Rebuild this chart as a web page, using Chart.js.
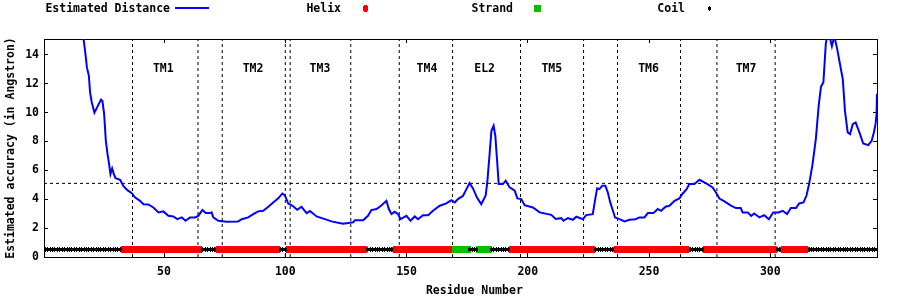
<!DOCTYPE html>
<html>
<head>
<meta charset="utf-8">
<script src="https://cdn.jsdelivr.net/npm/chart.js@4/dist/chart.umd.min.js"></script>
<style>
html,body{margin:0;padding:0;background:#ffffff;}
canvas{display:block;}
</style>
</head>
<body>
<canvas id="c" width="900" height="300"></canvas>
<script>
// ---------------- data ----------------
const residues = [1, 8, 14, 16.9, 17.6, 18.2, 19.0, 19.5, 20.2, 21.3, 24.0, 24.6, 25.3, 26.0, 26.7, 27.35, 27.9, 28.6, 29.3, 30.0,
  31.9, 33.2, 34.9, 36.7, 38.0, 40.1, 41.5, 43.5, 45.6, 47.7, 49.7, 51.8, 53.8, 55.5, 57.3, 58.9, 60.7, 62.8, 64.1, 65.8,
  67.2, 68.9, 69.6, 70.3, 72.4, 75.8, 80.5, 82.0, 84.7, 86.8, 88.8, 90.9, 93.0, 95.0, 97.1, 98.8, 99.8, 101.2, 103.0, 104.9,
  106.7, 108.8, 110.2, 112.9, 116.0, 119.4, 123.8, 128.0, 128.7, 132.1, 134.1, 135.5, 137.6, 139.5, 141.7, 142.7, 143.8, 145.1, 146.5, 147.5,
  148.8, 150.0, 151.6, 153.4, 154.7, 156.8, 158.9, 160.9, 163.7, 166.4, 168.5, 169.9, 171.2, 173.3, 174.7, 176.0, 177.4, 179.0, 180.8, 182.6,
  183.3, 184.3, 185.0, 185.9, 186.6, 187.3, 188.0, 189.7, 190.9, 192.5, 194.6, 195.7, 197.3, 198.7, 202.1, 204.9, 209.7, 211.5, 213.8, 214.7,
  216.5, 218.6, 220.0, 222.7, 224.1, 226.8, 227.8, 228.6, 229.5, 230.7, 232.0, 233.0, 234.0, 235.1, 236.0, 237.8, 239.9, 241.9, 244.4, 246.0,
  248.1, 249.5, 251.8, 253.6, 255.0, 256.8, 258.4, 260.5, 262.5, 263.9, 265.5, 266.6, 268.7, 270.8, 272.8, 274.6, 276.2, 277.6, 279.0, 281.1,
  283.6, 285.8, 287.8, 288.6, 290.7, 292.1, 293.4, 295.5, 297.5, 299.4, 301.2, 303.4, 305.1, 306.9, 308.5, 310.6, 311.9, 313.7, 314.9, 316.0,
  317.4, 318.8, 319.9, 320.9, 321.9, 322.9, 323.6, 324.4, 325.4, 326.4, 327.6, 328.8, 329.9, 330.8, 331.9, 332.9, 334.0, 335.2, 337.0, 338.3,
  340.4, 341.8, 342.7, 343.4, 343.8, 344.0];
const distance = [19.0, 17.6, 16.0, 15.0, 14.05, 13.13, 12.55, 11.4, 10.7, 10.0, 10.9, 10.8, 9.9, 8.05, 7.13, 6.43, 5.74, 6.13, 5.74, 5.46,
  5.35, 4.93, 4.63, 4.42, 4.13, 3.89, 3.66, 3.64, 3.43, 3.09, 3.16, 2.85, 2.81, 2.62, 2.74, 2.51, 2.74, 2.74, 2.85, 3.25,
  3.04, 3.04, 3.09, 2.74, 2.51, 2.44, 2.46, 2.62, 2.74, 2.97, 3.16, 3.20, 3.48, 3.78, 4.06, 4.40, 4.29, 3.70, 3.55, 3.27,
  3.48, 3.04, 3.18, 2.81, 2.64, 2.45, 2.30, 2.40, 2.55, 2.55, 2.85, 3.25, 3.32, 3.55, 3.89, 3.32, 2.97, 3.13, 2.97, 2.62,
  2.74, 2.85, 2.51, 2.81, 2.62, 2.90, 2.90, 3.20, 3.55, 3.71, 3.94, 3.78, 4.01, 4.24, 4.70, 5.12, 4.75, 4.13, 3.66, 4.24,
  5.17, 7.24, 8.74, 9.09, 8.40, 6.78, 5.05, 5.05, 5.28, 4.82, 4.59, 4.06, 4.01, 3.59, 3.43, 3.09, 2.92, 2.64, 2.69, 2.51,
  2.69, 2.58, 2.79, 2.62, 2.90, 2.97, 4.01, 4.75, 4.70, 4.93, 4.93, 4.47, 3.78, 3.20, 2.74, 2.62, 2.46, 2.58, 2.62, 2.74,
  2.74, 3.04, 3.04, 3.32, 3.20, 3.48, 3.55, 3.89, 4.06, 4.40, 4.70, 5.05, 5.05, 5.35, 5.17, 5.00, 4.82, 4.47, 4.05, 3.85,
  3.58, 3.39, 3.39, 3.09, 3.09, 2.85, 3.02, 2.74, 2.90, 2.62, 3.09, 3.09, 3.20, 2.97, 3.39, 3.39, 3.71, 3.78, 4.24, 5.05,
  6.40, 8.20, 10.40, 11.80, 12.10, 14.80, 15.40, 15.30, 14.60, 15.30, 14.40, 13.30, 12.30, 10.10, 8.63, 8.51, 9.20, 9.32, 8.51, 7.86,
  7.75, 8.05, 8.63, 9.20, 9.90, 11.30];

// secondary structure, as residue ranges [first, last]
const helixRanges  = [[33,65],[72,97],[101,133],[145,169],[193,227],[236,266],[273,302],[305,315]];
const strandRanges = [[170,175],[180,184]];
const coilRanges   = [[1,32],[66,71],[98,100],[134,144],[176,179],[185,192],[228,235],[267,272],[303,304],[316,344]];
const ssLevel = 0.5;

// region boundaries (vertical dotted lines), cutoff (horizontal dotted line) and region names
const boundaries = [37, 64, 74, 100, 102, 127, 147, 169, 197, 223, 237, 263, 278, 302];
const cutoff = 5.1;
const regionLabels  = ['TM1', 'TM2', 'TM3', 'TM4', 'EL2', 'TM5', 'TM6', 'TM7'];
const regionCenters = [49.7, 86.7, 114.3, 158.4, 182.2, 209.9, 249.8, 290.0];
const regionLabelLevel = 13;

// axes
const xRange = [0.5, 344];
const yRange = [0, 15.1];
const xTicks = [50, 100, 150, 200, 250, 300];
const yTicks = [0, 2, 4, 6, 8, 10, 12, 14];
const xTitle = 'Residue Number';
const yTitle = 'Estimated accuracy (in Angstron)';
const seriesNames = ['Estimated Distance', 'Helix', 'Strand', 'Coil'];

// ---------------- styling ----------------
const FAMILY = '"DejaVu Sans Mono", "Liberation Mono", monospace';
const FSIZE = 11.5;
const FONT = {family: FAMILY, size: FSIZE, weight: 'bold'};
const FONT_CSS = 'bold ' + FSIZE + 'px ' + FAMILY;

function glyph(w, h, rows, color) {
  const c = document.createElement('canvas');
  c.width = w; c.height = h;
  const g = c.getContext('2d');
  g.fillStyle = color;
  rows.forEach(([y, x0, x1]) => g.fillRect(x0, y, x1 - x0 + 1, 1));
  return c;
}
const helixImg  = glyph(5, 7, [[0,1,3],[1,0,4],[2,0,4],[3,0,4],[4,0,4],[5,0,4],[6,1,3]], '#ff0000');
const strandImg = glyph(7, 7, [[0,0,6],[1,0,6],[2,0,6],[3,0,6],[4,0,6],[5,0,6],[6,0,6]], '#00c000');
const coilImg   = glyph(3, 5, [[0,1,1],[1,0,2],[2,0,2],[3,0,2],[4,1,1]], '#000000');

function expand(ranges) {
  const pts = [];
  ranges.forEach(([a, b]) => { for (let r = a; r <= b; r++) pts.push({x: r, y: ssLevel}); });
  return pts;
}

const curve = residues.map((r, i) => ({x: r, y: distance[i]}));
const boundaryPts = [];
boundaries.forEach(b => { boundaryPts.push({x: b, y: yRange[0]}, {x: b, y: yRange[1]}, {x: b, y: null}); });
const cutoffPts = [{x: xRange[0], y: cutoff}, {x: xRange[1], y: cutoff}];

// ---------------- plugins ----------------
const crispPoints = {
  id: 'crispPoints',
  beforeDatasetsDraw(chart) { chart.ctx.imageSmoothingEnabled = false; },
  afterDatasetsDraw(chart) { chart.ctx.imageSmoothingEnabled = true; }
};

const regionPlugin = {
  id: 'regionNames',
  afterDatasetsDraw(chart) {
    const {ctx, scales: {x, y}} = chart;
    ctx.save();
    ctx.font = FONT_CSS;
    ctx.fillStyle = '#000';
    ctx.textAlign = 'center';
    ctx.textBaseline = 'middle';
    regionLabels.forEach((t, i) => ctx.fillText(t, x.getPixelForValue(regionCenters[i]), y.getPixelForValue(regionLabelLevel)));
    ctx.restore();
  }
};

// gnuplot-style key: text right-aligned, sample to its right
const KEY_Y = 9;
const keyLayout = [
  {ds: 0, textRight: 170, sx: 192, line: true},
  {ds: 1, textRight: 341, sx: 365},
  {ds: 2, textRight: 513, sx: 537},
  {ds: 3, textRight: 685, sx: 709}
];
const keyPlugin = {
  id: 'gnuKey',
  afterDraw(chart) {
    const ctx = chart.ctx;
    const ds = chart.data.datasets;
    ctx.save();
    ctx.font = FONT_CSS;
    ctx.fillStyle = '#000';
    ctx.textAlign = 'right';
    ctx.textBaseline = 'middle';
    keyLayout.forEach(k => {
      const d = ds[k.ds];
      ctx.fillText(d.label, k.textRight, KEY_Y);
      if (k.line) {
        ctx.strokeStyle = d.borderColor;
        ctx.lineWidth = d.borderWidth;
        ctx.beginPath();
        ctx.moveTo(k.sx - 17, KEY_Y - 1);
        ctx.lineTo(k.sx + 17, KEY_Y - 1);
        ctx.stroke();
      } else {
        const img = d.pointStyle;
        ctx.drawImage(img, Math.round(k.sx - img.width / 2), Math.round(KEY_Y - 1 - img.height / 2));
      }
    });
    ctx.restore();
  }
};

const setTicks = list => scale => { scale.ticks = list.map(v => ({value: v})); };
const axisGrid = {drawOnChartArea: false, drawTicks: true, tickLength: -4, color: '#000', lineWidth: 1};
const axisBorder = {display: true, color: '#000', width: 1};

new Chart(document.getElementById('c'), {
  type: 'line',
  data: {
    datasets: [
      {label: seriesNames[0], data: curve, borderColor: '#0000ff', borderWidth: 2, pointRadius: 0, tension: 0, clip: 0, order: 3},
      {label: seriesNames[1], data: expand(helixRanges), showLine: false, pointStyle: helixImg, pointRadius: 3, order: 2},
      {label: seriesNames[2], data: expand(strandRanges), showLine: false, pointStyle: strandImg, pointRadius: 3, order: 1},
      {label: seriesNames[3], data: expand(coilRanges), showLine: false, pointStyle: coilImg, pointRadius: 3, order: 0},
      {label: 'boundaries', data: boundaryPts, borderColor: '#000', borderWidth: 1, borderDash: [3, 3], pointRadius: 0, spanGaps: false, order: 4},
      {label: 'cutoff', data: cutoffPts, borderColor: '#000', borderWidth: 1, borderDash: [3, 3], pointRadius: 0, order: 5}
    ]
  },
  options: {
    responsive: false,
    animation: false,
    devicePixelRatio: 1,
    layout: {padding: 0},
    plugins: {legend: {display: false}, tooltip: {enabled: false}},
    scales: {
      x: {
        type: 'linear', position: 'bottom', min: xRange[0], max: xRange[1],
        afterBuildTicks: setTicks(xTicks), afterFit: s => { s.height = 43; },
        grid: axisGrid, border: axisBorder,
        ticks: {font: FONT, color: '#000', padding: 12, maxRotation: 0, autoSkip: false},
        title: {display: true, text: '    ' + xTitle, font: FONT, color: '#000', padding: {top: 0, bottom: 2}}
      },
      x2: {
        type: 'linear', position: 'top', min: xRange[0], max: xRange[1],
        afterBuildTicks: setTicks(xTicks), afterFit: s => { s.height = 39; },
        grid: axisGrid, border: axisBorder, ticks: {display: false}
      },
      y: {
        type: 'linear', position: 'left', min: yRange[0], max: yRange[1],
        afterBuildTicks: setTicks(yTicks), afterFit: s => { s.width = 44; },
        grid: axisGrid, border: axisBorder,
        ticks: {font: FONT, color: '#000', padding: 9, autoSkip: false},
        title: {display: true, text: yTitle, font: FONT, color: '#000', padding: {top: 4, bottom: 0}}
      },
      y2: {
        type: 'linear', position: 'right', min: yRange[0], max: yRange[1],
        afterBuildTicks: setTicks(yTicks), afterFit: s => { s.width = 23; },
        grid: axisGrid, border: axisBorder, ticks: {display: false}
      }
    }
  },
  plugins: [crispPoints, regionPlugin, keyPlugin]
});
</script>
</body>
</html>
